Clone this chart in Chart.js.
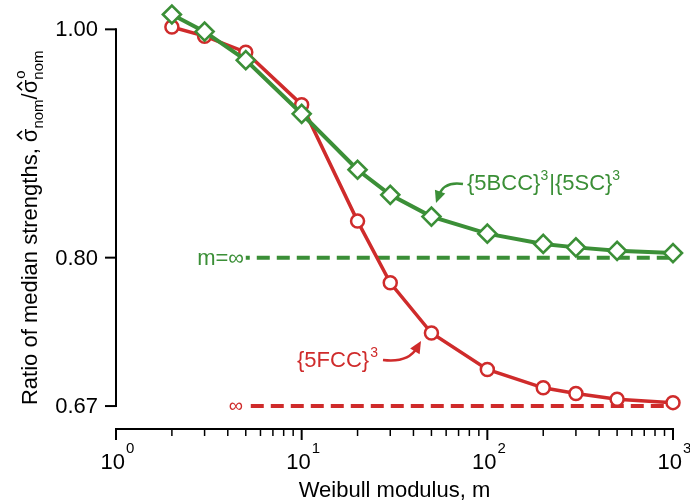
<!DOCTYPE html>
<html>
<head>
<meta charset="utf-8">
<script src="https://cdn.jsdelivr.net/npm/chart.js@4.4.0/dist/chart.umd.min.js"></script>
<style>
  html, body { margin: 0; padding: 0; background: #fff; }
</style>
</head>
<body>
<canvas id="myChart" width="690" height="503"></canvas>
<script>
// Weibull modulus values where the simulations were run
const mValues = [2, 3, 5, 10, 20, 30, 50, 100, 200, 300, 500, 1000];
// ratio of median strengths
const fccRatio = [1.002, 0.994, 0.980, 0.934, 0.832, 0.778, 0.734, 0.702, 0.686, 0.681, 0.676, 0.673];
const bccRatio = [1.013, 0.998, 0.973, 0.926, 0.877, 0.855, 0.836, 0.821, 0.812, 0.809, 0.806, 0.804];
// m = infinity limits (dashed lines)
const limitRange = [5, 1000];
const bccLimit = 0.80;
const fccLimit = 0.67;
// tick labels
const yTicks = [0.67, 0.80, 1.00];
const yTickLabels = ['0.67', '0.80', '1.00'];
const xMajorTicks = [1, 10, 100, 1000];
const xTickExps = ['0', '1', '2', '3'];

const red = '#cf2b2b';
const green = '#3b8f37';
const font = '"Liberation Sans", Arial, sans-serif';

function toPoints(xs, ys) {
  return xs.map((x, i) => ({x: x, y: ys[i]}));
}

// axes drawn by hand so the spines can be detached like the original
const axesPlugin = {
  id: 'axesPlugin',
  afterDraw(chart) {
    const c = chart.ctx;
    const xs = chart.scales.x;
    const ys = chart.scales.y;
    const area = chart.chartArea;
    c.save();
    c.strokeStyle = '#000';
    c.fillStyle = '#000';
    c.lineWidth = 2;
    c.lineCap = 'butt';

    // y spine
    const yTop = ys.getPixelForValue(yTicks[yTicks.length - 1]);
    const yBot = ys.getPixelForValue(yTicks[0]);
    c.beginPath();
    c.moveTo(area.left, yTop - 1);
    c.lineTo(area.left, yBot + 1);
    c.stroke();
    c.font = '22px ' + font;
    c.textAlign = 'right';
    c.textBaseline = 'middle';
    yTicks.forEach((v, i) => {
      const py = ys.getPixelForValue(v);
      c.beginPath();
      c.moveTo(area.left - 11, py);
      c.lineTo(area.left, py);
      c.stroke();
      c.fillText(yTickLabels[i], area.left - 18, py + 1);
    });

    // x spine
    const axY = area.bottom;
    const x0 = xs.getPixelForValue(xMajorTicks[0]);
    const x1 = xs.getPixelForValue(xMajorTicks[xMajorTicks.length - 1]);
    c.beginPath();
    c.moveTo(x0 - 1, axY);
    c.lineTo(x1 + 1, axY);
    c.stroke();
    // minor ticks
    c.lineWidth = 1.5;
    for (let d = 1; d < 1000; d *= 10) {
      for (let k = 2; k < 10; k++) {
        const px = xs.getPixelForValue(d * k);
        c.beginPath();
        c.moveTo(px, axY);
        c.lineTo(px, axY + 7);
        c.stroke();
      }
    }
    c.lineWidth = 2;
    xMajorTicks.forEach((v, i) => {
      const px = xs.getPixelForValue(v);
      c.beginPath();
      c.moveTo(px, axY);
      c.lineTo(px, axY + 11);
      c.stroke();
      c.font = '22px ' + font;
      const wBase = c.measureText('10').width;
      c.font = '15px ' + font;
      const wExp = c.measureText(xTickExps[i]).width;
      const left = px - (wBase + wExp) / 2 + 1;
      c.textAlign = 'left';
      c.textBaseline = 'alphabetic';
      c.font = '22px ' + font;
      c.fillText('10', left, axY + 40);
      c.font = '15px ' + font;
      c.fillText(xTickExps[i], left + wBase + 1, axY + 24);
    });

    // x title
    c.font = '22px ' + font;
    c.textAlign = 'center';
    c.fillText('Weibull modulus, m', (x0 + x1) / 2, axY + 68);

    // y title, rotated
    c.translate(37, yBot - 1);
    c.rotate(-Math.PI / 2);
    c.textAlign = 'left';
    c.textBaseline = 'alphabetic';
    let x = 0;
    const big = '22px ' + font;
    const small = '15px ' + font;
    function put(txt, f, dy) {
      c.font = f;
      c.fillText(txt, x, dy);
      x += c.measureText(txt).width;
    }
    function sigmaHat() {
      c.font = big;
      const w = c.measureText('σ').width;
      c.fillText('σ', x, 0);
      c.lineWidth = 1.6;
      c.beginPath();
      c.moveTo(x + w * 0.22, -15);
      c.lineTo(x + w * 0.52, -19.5);
      c.lineTo(x + w * 0.82, -15);
      c.stroke();
      x += w;
    }
    put('Ratio of median strengths, ', big, 0);
    sigmaHat();
    put('nom', small, 6);
    put('/', big, 0);
    sigmaHat();
    c.font = small;
    c.fillText('o', x + 1, -12);
    put('nom', small, 6);
    c.restore();
  }
};

function arrow(c, x0, y0, cx, cy, x1, y1, color) {
  c.strokeStyle = color;
  c.fillStyle = color;
  c.lineWidth = 2.5;
  const ang = Math.atan2(y1 - cy, x1 - cx);
  const hx = x1 - 8 * Math.cos(ang);
  const hy = y1 - 8 * Math.sin(ang);
  c.beginPath();
  c.moveTo(x0, y0);
  c.quadraticCurveTo(cx, cy, hx, hy);
  c.stroke();
  c.beginPath();
  c.moveTo(x1, y1);
  c.lineTo(x1 - 12 * Math.cos(ang) + 5.5 * Math.sin(ang), y1 - 12 * Math.sin(ang) - 5.5 * Math.cos(ang));
  c.lineTo(x1 - 12 * Math.cos(ang) - 5.5 * Math.sin(ang), y1 - 12 * Math.sin(ang) + 5.5 * Math.cos(ang));
  c.closePath();
  c.fill();
}

const notesPlugin = {
  id: 'notesPlugin',
  afterDraw(chart) {
    const c = chart.ctx;
    c.save();
    c.textBaseline = 'alphabetic';
    c.textAlign = 'left';

    // {5BCC}3|{5SC}3
    c.fillStyle = green;
    let x = 467;
    const by = 190;
    const parts = [['{5BCC}', 22, 0], ['3', 14, -10], ['|{5SC}', 22, 0], ['3', 14, -10]];
    parts.forEach(p => {
      c.font = p[1] + 'px ' + font;
      c.fillText(p[0], x, by + p[2]);
      x += c.measureText(p[0]).width + (p[1] < 20 ? 1 : 0);
    });
    arrow(c, 463, 184, 444, 181, 436, 203, green);

    // {5FCC}3
    c.fillStyle = red;
    x = 297;
    [['{5FCC}', 22, 0], ['3', 14, -10]].forEach(p => {
      c.font = p[1] + 'px ' + font;
      c.fillText(p[0], x, 367 + p[2]);
      x += c.measureText(p[0]).width + 1;
    });
    arrow(c, 383, 360, 408, 363, 421, 341, red);

    // limit labels
    c.font = '22px ' + font;
    c.textAlign = 'right';
    c.fillStyle = green;
    const ys = chart.scales.y;
    c.fillText('m=∞', 244, ys.getPixelForValue(bccLimit) + 7);
    c.fillStyle = red;
    c.font = '20px ' + font;
    c.fillText('∞', 243, ys.getPixelForValue(fccLimit) + 6);
    c.restore();
  }
};

const ctx = document.getElementById('myChart').getContext('2d');
const myChart = new Chart(ctx, {
  type: 'line',
  data: {
    datasets: [
      {
        label: '{5BCC}3|{5SC}3',
        data: toPoints(mValues, bccRatio),
        borderColor: green,
        borderWidth: 4,
        pointStyle: 'rectRot',
        pointRadius: 9,
        pointBorderWidth: 2.6,
        pointBackgroundColor: '#fff',
        pointBorderColor: green,
        clip: false,
        order: 0
      },
      {
        label: '{5FCC}3',
        data: toPoints(mValues, fccRatio),
        borderColor: red,
        borderWidth: 3.5,
        pointStyle: 'circle',
        pointRadius: 6.5,
        pointBorderWidth: 2.5,
        pointBackgroundColor: '#fff',
        pointBorderColor: red,
        clip: false,
        order: 1
      },
      {
        label: 'm=inf bcc',
        data: toPoints(limitRange, [bccLimit, bccLimit]),
        borderColor: green,
        borderWidth: 4,
        borderDash: [13, 7],
        borderDashOffset: 9,
        pointRadius: 0,
        clip: false,
        order: 2
      },
      {
        label: 'm=inf fcc',
        data: toPoints(limitRange, [fccLimit, fccLimit]),
        borderColor: red,
        borderWidth: 4,
        borderDash: [13, 7],
        borderDashOffset: 15,
        pointRadius: 0,
        clip: false,
        order: 3
      }
    ]
  },
  options: {
    responsive: false,
    animation: false,
    layout: { autoPadding: false, padding: { left: 116, right: 17, top: 6.5, bottom: 74 } },
    scales: {
      x: { type: 'logarithmic', min: 1, max: 1000, display: false },
      y: { type: 'linear', min: 0.6499, max: 1.02, display: false }
    },
    plugins: {
      legend: { display: false },
      tooltip: { enabled: false }
    }
  },
  plugins: [axesPlugin, notesPlugin]
});
</script>
</body>
</html>
